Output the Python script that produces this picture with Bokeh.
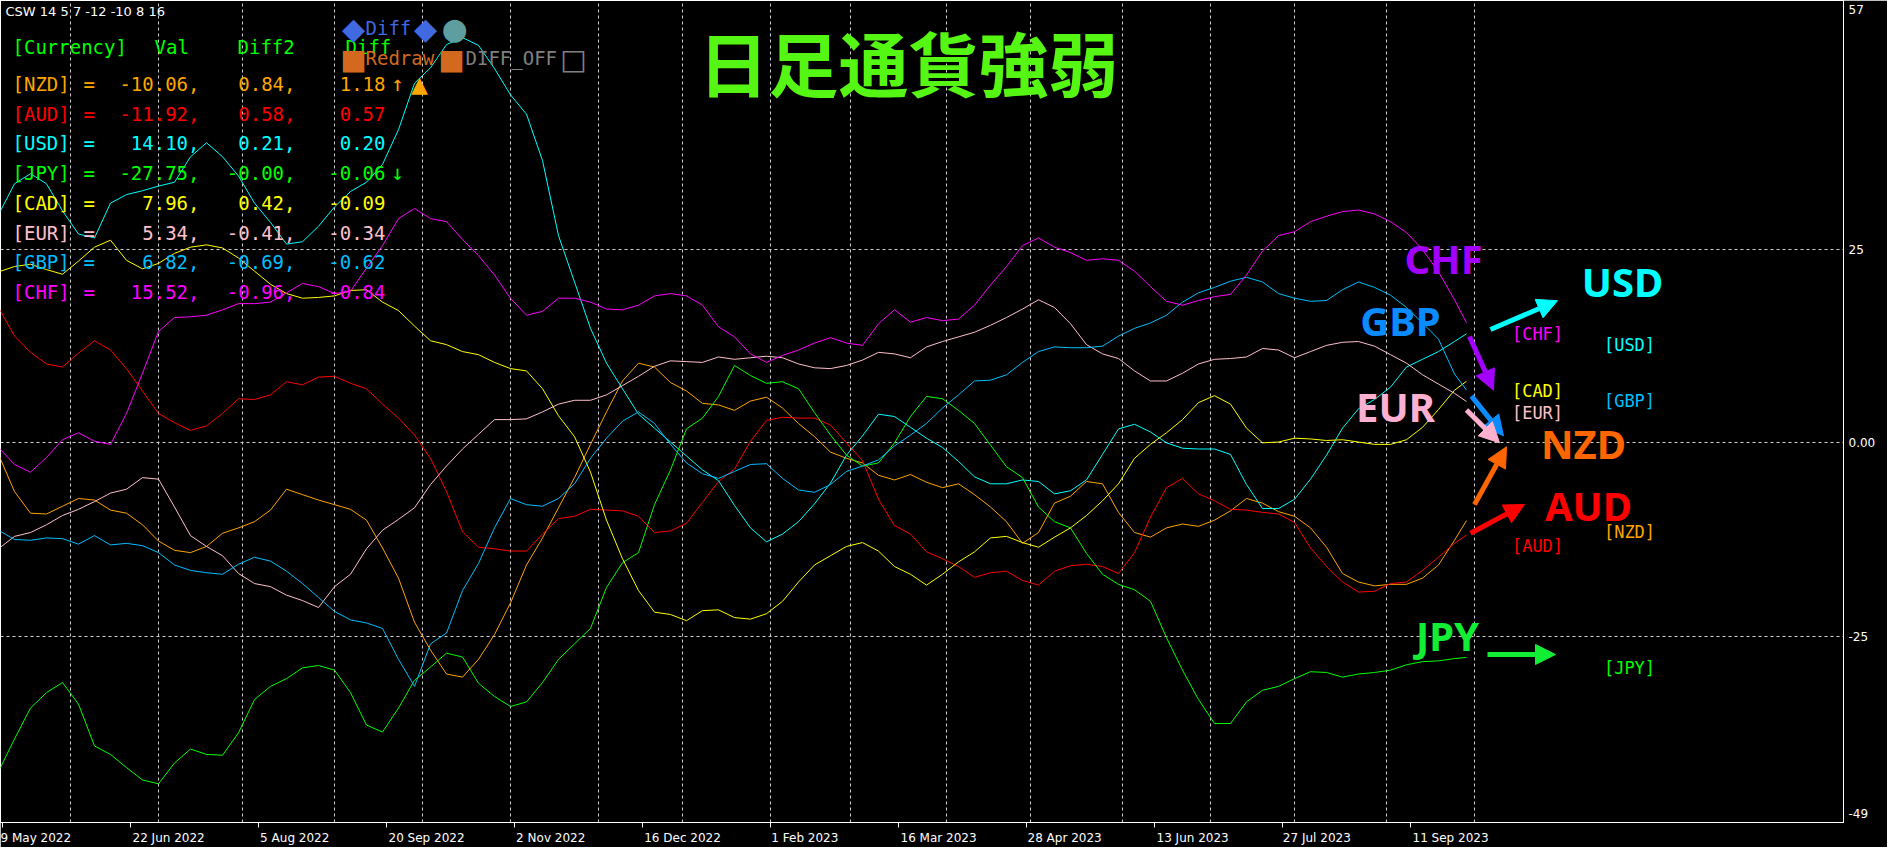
import numpy as np
from bokeh.plotting import figure
from bokeh.models import Range1d, FixedTicker, Label, Arrow, NormalHead
from bokeh.embed import file_html
from bokeh.resources import INLINE

# ---------------- data ----------------
CURRENCIES = ["NZD", "AUD", "USD", "JPY", "CAD", "EUR", "GBP", "CHF"]
LINE_COLORS = ["#FFA500", "#FF0000", "#00FFFF", "#00FF00", "#FFFF00", "#FFC0CB", "#00BFFF", "#FF00FF"]

STEP = 4          # one value every 4 daily bars (bar 0 = first visible bar)
LAST_BAR = 367    # current bar (its value = VAL)

NZD = [-1.5, -6.3, -9.1, -9.2, -8.2, -7.2, -7.4, -8.7, -9.1, -10.6,
       -12.7, -13.9, -14.2, -13.4, -11.7, -11.0, -10.2, -8.7, -6.0, -6.7,
       -7.4, -8.0, -8.6, -10.0, -13.6, -17.5, -23.2, -26.8, -29.9, -30.3,
       -28.0, -24.8, -20.7, -15.8, -12.3, -8.4, -4.5, -0.2, 4.0, 8.0,
       10.3, 9.8, 7.8, 6.7, 5.1, 4.9, 4.2, 5.4, 5.9, 4.5,
       2.5, 0.8, -1.2, -2.0, -2.6, -4.2, -4.8, -4.1, -5.1, -5.8,
       -5.3, -6.7, -8.3, -10.2, -13.0, -11.6, -7.8, -6.9, -5.0, -5.3,
       -9.0, -11.6, -12.2, -11.0, -10.5, -10.8, -10.0, -8.8, -7.2, -7.8,
       -8.9, -9.5, -11.0, -13.5, -16.9, -18.0, -18.5, -18.3, -18.3, -17.5,
       -15.8, -12.6]
AUD = [17.5, 13.8, 11.7, 10.2, 9.8, 11.6, 13.2, 12.0, 9.6, 6.7,
       3.8, 2.6, 1.6, 2.2, 3.8, 5.7, 5.6, 6.2, 7.9, 7.5,
       8.5, 8.6, 7.7, 7.0, 5.0, 3.2, 1.0, -2.0, -6.3, -11.5,
       -13.5, -13.7, -14.0, -14.0, -11.8, -9.8, -9.5, -8.6, -8.7, -8.8,
       -9.5, -11.6, -11.4, -10.4, -7.7, -5.0, -3.4, 0.2, 2.9, 3.3,
       3.2, 3.2, 2.3, 0.0, -2.3, -7.3, -10.7, -11.8, -14.1, -15.0,
       -16.0, -17.4, -16.8, -16.6, -17.8, -18.4, -16.6, -15.9, -15.7, -16.0,
       -16.9, -14.2, -9.6, -5.8, -4.6, -6.6, -7.5, -8.6, -8.7, -9.0,
       -9.2, -10.3, -13.6, -16.0, -18.0, -19.3, -19.2, -18.2, -18.0, -16.5,
       -14.8, -13.0]
USD = [29.5, 33.5, 34.8, 33.5, 30.0, 27.0, 26.5, 31.0, 32.1, 32.6,
       33.2, 33.7, 37.0, 38.8, 37.0, 34.5, 31.0, 28.5, 25.7, 26.0,
       28.0, 30.5, 32.5, 33.7, 36.0, 40.5, 46.5, 48.5, 51.5, 52.4,
       51.4, 48.4, 45.0, 42.5, 36.5, 26.8, 20.8, 14.8, 10.3, 7.0,
       3.7, 1.9, 0.1, -1.7, -3.5, -4.9, -8.1, -11.0, -12.8, -11.8,
       -10.2, -7.9, -5.2, -1.6, 0.9, 3.7, 3.4, 2.0, 0.6, -0.6,
       -2.4, -4.4, -5.3, -5.3, -4.8, -5.0, -6.6, -6.2, -4.8, -1.5,
       1.8, 2.4, 1.4, 0.0, -0.7, -0.8, -0.8, -1.5, -5.4, -8.5,
       -8.5, -7.3, -4.7, -1.6, 1.9, 4.4, 5.6, 7.2, 9.8, 10.8,
       11.8, 13.1]
JPY = [-42.5, -38.3, -34.3, -32.3, -31.0, -33.8, -39.2, -40.3, -42.0, -43.6,
       -44.1, -41.4, -39.6, -40.3, -40.4, -37.5, -33.2, -31.5, -30.5, -29.1,
       -28.8, -29.4, -32.3, -36.5, -37.4, -34.3, -30.7, -29.0, -27.2, -27.7,
       -31.1, -32.8, -34.1, -33.5, -31.0, -28.0, -26.0, -24.0, -18.7, -15.5,
       -14.2, -8.0, -3.5, 1.8, 3.2, 6.0, 10.0, 8.7, 7.7, 7.9,
       7.0, 3.9, 1.0, -1.6, -3.0, -2.6, 0.0, 3.4, 6.0, 5.7,
       4.2, 2.5, -0.3, -3.1, -4.5, -8.3, -10.2, -11.0, -14.3, -17.0,
       -18.3, -19.0, -20.5, -25.2, -29.4, -33.2, -36.3, -36.3, -33.5, -32.0,
       -31.5, -30.5, -29.6, -29.7, -30.3, -29.9, -29.7, -29.4, -28.7, -28.3,
       -28.2, -27.9]
CAD = [22.1, 22.8, 23.1, 22.4, 21.8, 23.5, 25.3, 26.2, 23.6, 22.5,
       23.2, 24.5, 25.3, 25.6, 25.2, 23.9, 22.2, 20.5, 19.3, 18.7,
       18.8, 19.0, 19.7, 19.8, 18.2, 17.1, 15.1, 13.2, 12.7, 11.8,
       11.4, 10.4, 9.6, 9.3, 7.0, 3.5, 0.8, -3.8, -10.0, -15.0,
       -19.1, -21.9, -22.2, -23.0, -21.7, -21.6, -22.6, -22.8, -22.1, -20.5,
       -18.0, -15.8, -14.6, -13.4, -12.9, -14.0, -16.0, -17.0, -18.4, -17.0,
       -15.4, -14.1, -12.3, -12.1, -12.9, -13.5, -12.2, -11.0, -9.4, -7.5,
       -5.3, -2.0, -0.2, 1.3, 3.0, 5.2, 6.1, 5.0, 1.9, 0.0,
       0.1, 0.6, 0.5, 0.3, 0.4, 0.1, -0.2, -0.2, 0.4, 2.0,
       4.3, 6.8]
EUR = [-13.7, -12.1, -11.6, -10.6, -9.4, -8.6, -7.6, -6.5, -6.0, -4.5,
       -4.7, -8.3, -12.0, -13.4, -14.6, -16.9, -18.2, -18.6, -19.7, -20.4,
       -21.3, -18.6, -17.0, -13.7, -11.3, -9.9, -8.4, -5.4, -3.0, -0.8,
       1.1, 3.0, 3.0, 3.1, 4.0, 5.0, 5.5, 5.5, 6.2, 7.4,
       8.6, 9.9, 10.6, 10.5, 10.4, 11.1, 10.8, 11.0, 11.2, 11.0,
       10.2, 9.7, 9.6, 10.0, 10.7, 11.7, 11.5, 11.0, 12.4, 13.1,
       13.7, 14.3, 15.2, 16.2, 17.3, 18.5, 17.5, 15.4, 12.7, 11.5,
       10.9, 9.3, 8.0, 8.0, 9.0, 10.2, 10.8, 10.9, 11.1, 12.2,
       12.0, 11.0, 11.8, 12.6, 13.0, 13.1, 12.5, 11.4, 10.3, 8.8,
       7.6, 6.4]
GBP = [-11.3, -12.5, -12.6, -12.3, -12.4, -13.1, -12.0, -13.2, -13.0, -13.3,
       -14.2, -15.8, -16.5, -16.8, -17.0, -15.7, -14.8, -15.3, -16.6, -18.2,
       -20.0, -21.8, -22.9, -23.3, -24.0, -28.0, -31.5, -26.0, -24.6, -19.1,
       -15.6, -11.0, -7.2, -8.0, -8.2, -7.2, -5.3, -2.0, 0.6, 2.8,
       4.0, 2.5, -0.2, -2.6, -4.0, -4.6, -3.7, -2.8, -2.7, -4.6,
       -6.1, -6.4, -5.4, -3.7, -3.0, -2.2, -0.4, 1.0, 2.5, 4.5,
       6.2, 8.0, 8.1, 8.8, 10.4, 11.8, 12.4, 12.3, 12.3, 12.5,
       13.8, 14.8, 15.5, 16.5, 18.2, 19.4, 20.1, 20.9, 21.4, 20.8,
       19.3, 18.7, 18.3, 18.4, 19.8, 20.8, 20.1, 19.1, 17.5, 15.5,
       13.4, 8.9]
CHF = [-0.6, -2.8, -3.8, -1.9, 0.4, 1.3, 0.2, -0.2, 3.8, 9.0,
       14.4, 16.2, 16.3, 16.5, 17.2, 18.0, 18.0, 18.2, 19.4, 20.6,
       20.2, 19.3, 19.6, 22.6, 25.5, 29.0, 30.3, 29.0, 28.6, 26.3,
       24.2, 21.7, 18.7, 16.5, 17.0, 18.7, 18.7, 18.2, 17.3, 17.2,
       17.8, 19.0, 19.3, 19.0, 17.8, 15.0, 13.7, 11.5, 10.4, 11.3,
       12.0, 12.9, 13.6, 12.9, 12.6, 15.4, 17.2, 15.6, 16.2, 15.8,
       16.0, 17.8, 20.4, 22.8, 25.5, 26.5, 25.3, 24.6, 23.6, 23.8,
       23.6, 22.2, 20.2, 18.3, 17.8, 18.4, 18.9, 19.2, 21.7, 24.8,
       26.8, 27.3, 28.6, 29.3, 29.9, 30.1, 29.6, 28.6, 27.2, 25.0,
       22.1, 18.5]

VAL = [-10.06, -11.92, 14.10, -27.75, 7.96, 5.34, 6.82, 15.52]
DIFF2 = [0.84, 0.58, 0.21, -0.0, 0.42, -0.41, -0.69, -0.96]
DIFF = [1.18, 0.57, 0.20, -0.06, -0.09, -0.34, -0.62, -0.84]
TREND_MARK = ["\u2191", "", "", "\u2193", "", "", "", ""]

DATE_LABELS = ["9 May 2022", "22 Jun 2022", "5 Aug 2022", "20 Sep 2022", "2 Nov 2022",
               "16 Dec 2022", "1 Feb 2023", "16 Mar 2023", "28 Apr 2023", "13 Jun 2023",
               "27 Jul 2023", "11 Sep 2023"]
FIRST_LABEL_BAR = 1
LABEL_EVERY = 32
MONTH_START_BARS = [18, 40, 61, 84, 106, 128, 150, 171, 193, 213, 237, 258, 281, 303, 324, 347, 369]
Y_TICKS = [56, 25, 0, -25, -48]
Y_TICK_LABELS = ["57", "25", "0.00", "-25", "-49"]
Y_GRID = [25, 0, -25]

TITLE = "日足通貨強弱"
HEADER = "CSW 14 5 7 -12 -10 8 16"

SERIES = {"NZD": NZD, "AUD": AUD, "USD": USD, "JPY": JPY,
          "CAD": CAD, "EUR": EUR, "GBP": GBP, "CHF": CHF}

# ---------------- figure ----------------
p = figure(width=1887, height=847, output_backend="svg", toolbar_location=None,
           x_range=Range1d(0.5, 461.25), y_range=Range1d(-49.1, 57.2),
           y_axis_location="right",
           min_border_left=0, min_border_right=44, min_border_top=0, min_border_bottom=21,
           background_fill_color="black", border_fill_color="black",
           outline_line_color="white", outline_line_width=1)

# grids
p.xgrid.ticker = FixedTicker(ticks=MONTH_START_BARS)
p.ygrid.ticker = FixedTicker(ticks=Y_GRID)
for g in (p.xgrid, p.ygrid):
    g.grid_line_color = "#D0D0D0"
    g.grid_line_dash = "3 3"
    g.grid_line_width = 1

# approximate DejaVu Sans advance widths (em) so that the centred date labels start at their tick
_W = {" ": 0.318, "M": 0.863, "J": 0.295, "A": 0.684, "S": 0.635, "N": 0.748, "D": 0.770,
      "F": 0.575, "a": 0.613, "y": 0.592, "u": 0.634, "n": 0.634, "g": 0.635, "e": 0.615,
      "p": 0.635, "o": 0.612, "v": 0.592, "c": 0.550, "b": 0.635, "r": 0.411, "l": 0.278}


def left_aligned(txt):
    w = sum(_W.get(ch, 0.636) for ch in txt) + 0.2
    return "\u00A0" * int(round(w / 0.318)) + txt


# axes (the first label is already pushed to the left edge by Bokeh itself)
tick_bars = [FIRST_LABEL_BAR + LABEL_EVERY * i for i in range(len(DATE_LABELS))]
p.xaxis.ticker = FixedTicker(ticks=tick_bars)
p.xaxis.major_label_overrides = {b: (lbl if i == 0 else left_aligned(lbl))
                                 for i, (b, lbl) in enumerate(zip(tick_bars, DATE_LABELS))}
p.yaxis.ticker = FixedTicker(ticks=Y_TICKS)
p.yaxis.major_label_overrides = {t: lbl for t, lbl in zip(Y_TICKS, Y_TICK_LABELS)}
for ax in (p.xaxis, p.yaxis):
    ax.axis_line_color = "white"
    ax.major_tick_line_color = "white"
    ax.minor_tick_line_color = None
    ax.major_tick_in = 0
    ax.major_label_text_color = "white"
    ax.major_label_text_font = "DejaVu Sans"
    ax.major_label_text_font_size = "12px"
p.xaxis.major_tick_out = 5
p.xaxis.major_label_standoff = 3
p.yaxis.major_tick_out = 0
p.yaxis.major_label_standoff = 5

# lines
for i, (cur, col) in enumerate(zip(CURRENCIES, LINE_COLORS)):
    vals = SERIES[cur]
    xs = [k * STEP for k in range(len(vals))] + [LAST_BAR]
    ys = list(vals) + [VAL[i]]
    p.line(xs, ys, line_color=col, line_width=1)


# ---------------- annotations (positions in screen pixels of the chart) ----------------
def X(px):
    return (px + 2) / 4.0


def Y(py):
    return (450.0 - py) / 7.78


def lab(px, py, text, color, size, font="DejaVu Sans Mono", align="left", bold=False):
    p.add_layout(Label(x=X(px), y=Y(py), text=text, text_color=color,
                       text_font=font, text_font_size=f"{size}px",
                       text_font_style="bold" if bold else "normal",
                       text_align=align, text_baseline="middle"))


lab(5, 16, HEADER, "white", 13, font="DejaVu Sans")

TABLE_GREEN = "#00FF00"
lab(12, 52, "[Currency]", TABLE_GREEN, 19)
lab(154, 52, "Val", TABLE_GREEN, 19)
lab(237, 52, "Diff2", TABLE_GREEN, 19)
lab(345, 52, "Diff", TABLE_GREEN, 19)

TABLE_COLORS = ["#FFA500", "#FF0000", "#00FFFF", "#00FF00", "#FFFF00", "#FFC0CB", "#00BFFF", "#FF00FF"]
for i, cur in enumerate(CURRENCIES):
    ry = 89 + 29.9 * i
    c = TABLE_COLORS[i]
    lab(12, ry, f"[{cur}]", c, 19)
    lab(83, ry, "=", c, 19)
    lab(199, ry, f"{VAL[i]:.2f},", c, 19, align="right")
    lab(295, ry, f"{DIFF2[i]:.2f},", c, 19, align="right")
    lab(385, ry, f"{DIFF[i]:.2f}", c, 19, align="right")
    if TREND_MARK[i]:
        lab(397, ry, TREND_MARK[i], c, 21, align="center")

# control buttons
lab(353, 33, "\u25C6", "#4169E1", 30, font="DejaVu Sans", align="center")
lab(365, 33, "Diff", "#4169E1", 19)
lab(425, 33, "\u25C6", "#4169E1", 30, font="DejaVu Sans", align="center")
lab(454, 33, "\u25CF", "#5F9EA0", 30, font="DejaVu Sans", align="center")
lab(353, 64, "\u25A0", "#D2691E", 28, font="DejaVu Sans", align="center")
lab(365, 63, "Redraw", "#D2691E", 19)
lab(451, 64, "\u25A0", "#D2691E", 28, font="DejaVu Sans", align="center")
lab(465, 63, "DIFF_OFF", "#808080", 19)
lab(573, 64, "\u25A1", "#808080", 28, font="DejaVu Sans", align="center")
lab(419, 89, "\u25B2", "#FFA500", 22, font="DejaVu Sans", align="center")

# title
lab(908, 66, TITLE, "#55F514", 70, font="Noto Sans CJK JP", align="center", bold=True)

# right-hand labels
BIG = [("CHF", "#A400FF", 1443, 265), ("GBP", "#0A8CFF", 1400, 327),
       ("EUR", "#FFB0D0", 1395, 413), ("USD", "#00FFFF", 1622, 288),
       ("NZD", "#FF6600", 1583, 451), ("AUD", "#FF0000", 1588, 513),
       ("JPY", "#11EE33", 1447, 644)]
for t, c, cx, cy in BIG:
    lab(cx, cy, t, c, 40, font="Noto Sans", align="center", bold=True)

SMALL = [("[CHF]", "#FF00FF", 1537, 341), ("[USD]", "#00FFFF", 1629, 352),
         ("[CAD]", "#FFFF00", 1537, 398), ("[EUR]", "#FFC0CB", 1537, 420),
         ("[GBP]", "#00BFFF", 1629, 408), ("[AUD]", "#FF0000", 1537, 554),
         ("[NZD]", "#FFA500", 1629, 540), ("[JPY]", "#00FF00", 1629, 677)]
for t, c, cx, cy in SMALL:
    lab(cx, cy, t, c, 17, align="center")

ARROWS = [("#00FFFF", 1490, 336, 1557, 307), ("#A400FF", 1469, 343, 1493, 397),
          ("#0A8CFF", 1471, 403, 1503, 443), ("#FFB0D0", 1466, 417, 1499, 450),
          ("#FF6600", 1474, 512, 1506, 454), ("#FF0000", 1470, 541, 1524, 512),
          ("#11EE33", 1487, 663, 1555, 663)]
for c, x0, y0, x1, y1 in ARROWS:
    p.add_layout(Arrow(x_start=X(x0), y_start=Y(y0), x_end=X(x1), y_end=Y(y1),
                       line_color=c, line_width=5,
                       end=NormalHead(size=20, fill_color=c, line_color=c, line_width=1)))

open("out.html", "w", encoding="utf-8").write(file_html(p, INLINE))
